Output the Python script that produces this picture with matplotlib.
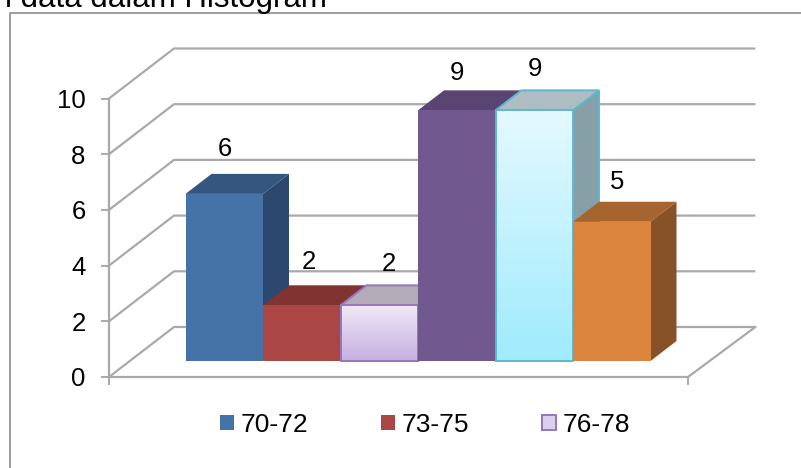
import numpy as np
import matplotlib
matplotlib.use('Agg')
import matplotlib.pyplot as plt
from matplotlib.colors import LinearSegmentedColormap
from matplotlib.lines import Line2D
from matplotlib.patches import Patch, Polygon

plt.rcParams['font.family'] = ['Liberation Sans', 'DejaVu Sans']

# Data
values = [6, 2, 2, 9, 9, 5]
legend_labels = ['70-72', '73-75', '76-78']
y_ticks = [0, 2, 4, 6, 8, 10]

# Colours per bar: front, top, side, edge
front_colors = ['#4572A7', '#AA4643', '#E6DAF2', '#71588F', '#CFF5FF', '#DB843D']
top_colors = ['#34567F', '#803331', '#B3ABB8', '#5A4472', '#AEBDC2', '#A6652E']
side_colors = ['#2C486E', '#6E2B2A', '#988FA0', '#4A3860', '#87A0A8', '#875227']
edge_colors = [None, None, '#9277BC', None, '#5BB8D0', None]
gradients = [None, None, ('#F0E9F8', '#C6AEE0'), None, ('#E4F9FF', '#9FEBFD'), None]

# Label nudges in pixels, the labels in the picture are not evenly placed
label_dx = [1, 7, 10, 0, 1, 5]
label_dy = [45, 43, 41, 37, 41, 40]

W, H = 801, 468
PX_X = 77.5   # pixels per bar width
PX_Y = 27.85  # pixels per value unit
DEPTH_X = 65 / PX_X
DEPTH_Y = 50 / PX_Y
BAR_D0, BAR_D1 = 0.32, 0.72
BAR_START = 55.7 / PX_X
GRID = '#A9A9A9'

def proj(x, v, d):
    return x + d * DEPTH_X, v + d * DEPTH_Y

fig = plt.figure(figsize=(W / 100, H / 100), dpi=100)
ax = fig.add_axes([109 / W, 1 - 377 / H, 579 / W, 10 * PX_Y / H])
x_max = 579 / PX_X

# Walls and floor
for t in y_ticks:
    xs, ys = zip(proj(0, t, 0), proj(0, t, 1), proj(x_max + 0.03, t, 1))
    ax.plot(xs, ys, color=GRID, lw=1.6, clip_on=False, zorder=1, solid_capstyle='butt')
xs, ys = zip(proj(x_max + 0.03, 0, 1), proj(x_max, 0, 0))
ax.plot(xs, ys, color=GRID, lw=1.6, clip_on=False, zorder=1)

# Bars
for i, v in enumerate(values):
    x0 = BAR_START + i
    x1 = x0 + 1
    z = 3 + i
    ec = edge_colors[i]
    lw = 1.4 if ec else 0
    top = [proj(x0, v, BAR_D0), proj(x1, v, BAR_D0), proj(x1, v, BAR_D1), proj(x0, v, BAR_D1)]
    side = [proj(x1, 0, BAR_D0), proj(x1, v, BAR_D0), proj(x1, v, BAR_D1), proj(x1, 0, BAR_D1)]
    front = [proj(x0, 0, BAR_D0), proj(x1, 0, BAR_D0), proj(x1, v, BAR_D0), proj(x0, v, BAR_D0)]
    ax.add_patch(Polygon(side, fc=side_colors[i], ec=ec or 'none', lw=lw, clip_on=False, zorder=z))
    ax.add_patch(Polygon(top, fc=top_colors[i], ec=ec or 'none', lw=lw, clip_on=False, zorder=z))
    if gradients[i]:
        cmap = LinearSegmentedColormap.from_list('g%d' % i, gradients[i])
        y0 = front[0][1]
        y1 = front[2][1]
        ax.imshow(np.linspace(0, 1, 64).reshape(-1, 1), cmap=cmap, aspect='auto',
                  extent=[front[0][0], front[1][0], y0, y1], zorder=z, clip_on=False)
        ax.add_patch(Polygon(front, fc='none', ec=ec, lw=lw, clip_on=False, zorder=z))
    else:
        ax.add_patch(Polygon(front, fc=front_colors[i], ec='none', clip_on=False, zorder=z))
    cx = (front[0][0] + front[1][0]) / 2
    ax.annotate(str(v), xy=(cx, front[2][1]), xytext=(label_dx[i] * 0.72, label_dy[i] * 0.72),
                textcoords='offset points', ha='center', va='center', fontsize=18.5,
                color='black', zorder=20, annotation_clip=False)

ax.set_xlim(0, x_max)
ax.set_ylim(0, 10)
ax.set_yticks(y_ticks)
ax.set_xticks([0, x_max])
ax.set_xticklabels([])
ax.tick_params(axis='y', length=5.8, width=1.4, color=GRID, labelsize=18.5, pad=11)
ax.tick_params(axis='x', length=5.8, width=1.4, color=GRID)
ax.patch.set_alpha(0)
for side_name in ['top', 'right']:
    ax.spines[side_name].set_visible(False)
for side_name in ['left', 'bottom']:
    ax.spines[side_name].set_color(GRID)
    ax.spines[side_name].set_linewidth(1.6)
    ax.spines[side_name].set_zorder(2)

# Outer frame, runs off the picture on the right and at the bottom
fig.add_artist(Line2D([9.5 / W, 9.5 / W, 1], [0, 1 - 13 / H, 1 - 13 / H], color='#8C8C8C', lw=1.2))

# Title, cut off by the picture edge
fig.text(327 / W, 1 - 6.5 / H, 'l data dalam Histogram', ha='right', va='baseline', fontsize=22.5, color='black')

# Legend
handles = [Patch(fc=front_colors[0]), Patch(fc=front_colors[1]),
           Patch(fc='#DCCFEE', ec=edge_colors[2], lw=1.4)]
fig.legend(handles, legend_labels, ncol=3, loc='center', bbox_to_anchor=(425 / W, 1 - 425 / H),
           frameon=False, fontsize=19, handlelength=0.53, handleheight=0.53,
           handletextpad=0.25, columnspacing=2.75, borderpad=0, borderaxespad=0)

fig.savefig('out.png', dpi=100)
